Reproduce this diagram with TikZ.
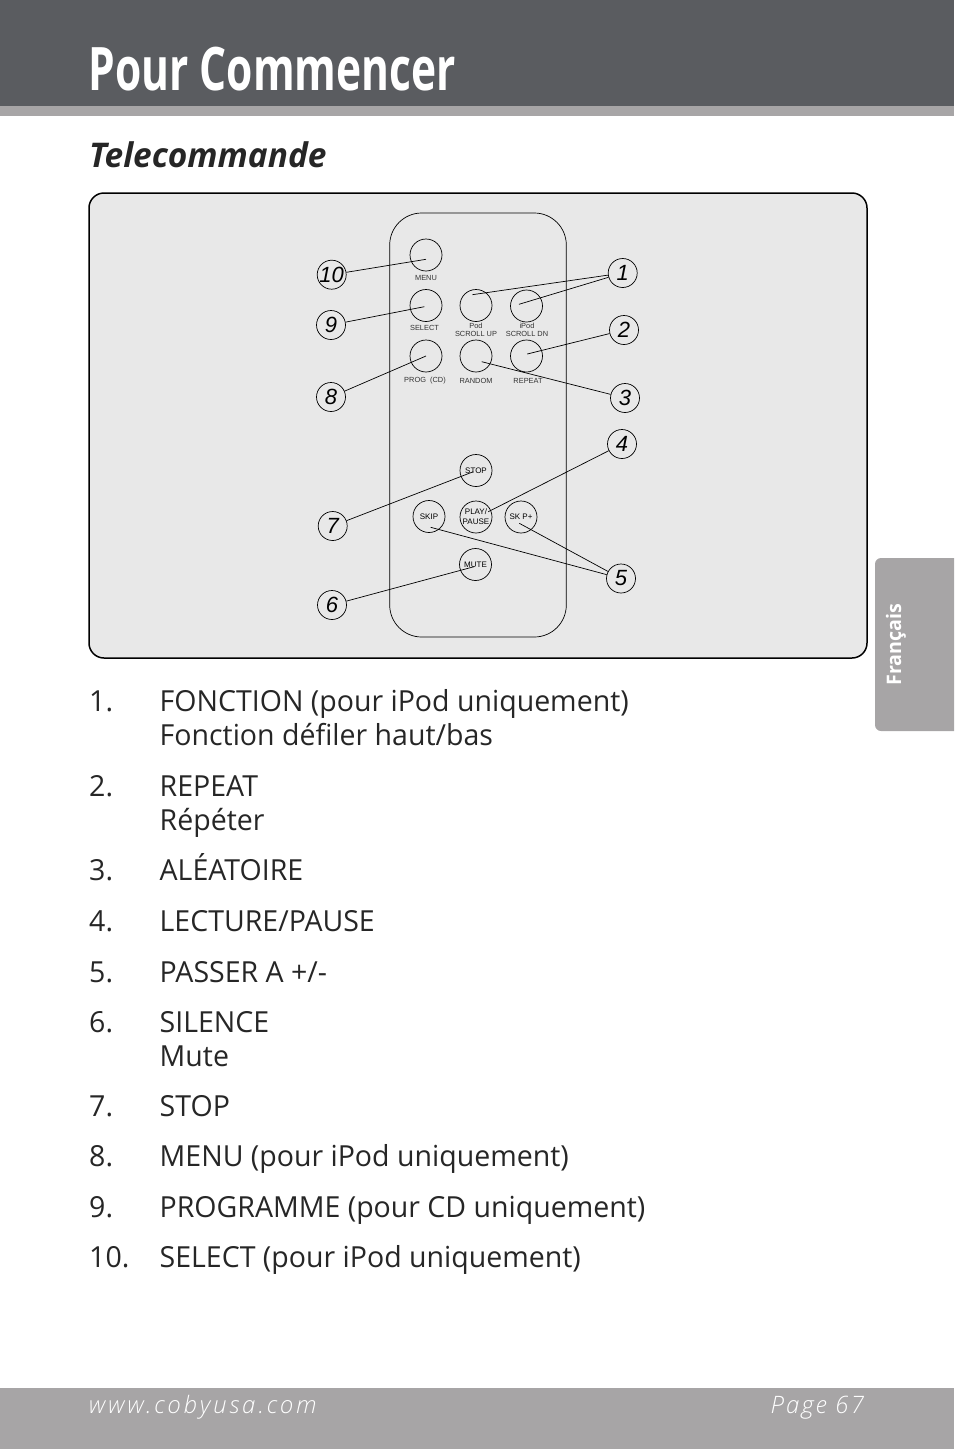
\documentclass[tikz,border=0pt]{standalone}
\usepackage{fontspec}
\setmainfont{Open Sans}[FakeStretch=0.983]
\newfontfamily\titlefont[FakeStretch=0.708]{Open Sans}
\newfontfamily\footfont[LetterSpace=9]{Open Sans Light}
\newfontfamily\webfont[LetterSpace=12]{Open Sans Light}
\newfontfamily\labelfont{Liberation Sans}
\definecolor{headgray}{HTML}{5A5C60}
\definecolor{stripgray}{HTML}{A7A5A6}
\definecolor{panelgray}{HTML}{E8E8E8}
\newcommand{\drawbtn}{\node[draw,circle,minimum size=32pt,inner sep=0,line width=0.7pt,font=\labelfont\fontsize{8}{10}\selectfont,align=center]}
\newcommand{\drawcall}{\node[draw,circle,minimum size=29pt,inner sep=0,line width=0.7pt,font=\labelfont\itshape\fontsize{22}{22}\selectfont]}
\newcommand{\drawtag}{\node[inner sep=0,font=\labelfont\fontsize{7.4}{8}\selectfont,text=black!80]}
\newcommand{\drawitem}{\node[anchor=base west,inner sep=0,font=\fontsize{29}{29}\selectfont,text=black!85]}
\tikzset{leader/.style={line width=0.7pt}}

\begin{document}
\begin{tikzpicture}[x=1pt,y=-1pt]
\useasboundingbox (0,0) rectangle (954,1449);
%page bands
\fill[headgray] (0,0) rectangle (954,106);
\fill[stripgray] (0,106) rectangle (954,116);
\fill[stripgray] (0,1388) rectangle (954,1449);
\fill[stripgray] (954,558) [rounded corners=6pt] -- (875,558) -- (875,731) [sharp corners] -- (954,731) -- cycle;
\node[rotate=90,inner sep=0,text=white,font=\bfseries\fontsize{20}{20}\selectfont] (lang) at (896,644.5) {Français};

\node[anchor=base west,inner sep=0,text=white,font=\titlefont\bfseries\fontsize{60}{60}\selectfont] (title) at (88.5,90) {Pour Commencer};
\node[anchor=base west,inner sep=0,text=black!85,font=\bfseries\itshape\fontsize{34}{34}\selectfont] (head) at (89,167) {Telecommande};

%panel and remote
\node[draw,fill=panelgray,rounded corners=15pt,line width=1.5pt,minimum width=778pt,minimum height=465pt] (panel) at (478,425.5) {};
\node[draw,rounded corners=32pt,line width=0.7pt,minimum width=176.6pt,minimum height=424pt] (remote) at (478,425) {};

%buttons
\drawbtn (menu) at (426,255) {};
\drawbtn (select) at (426,305.5) {};
\drawbtn (prog) at (426,356) {};
\drawbtn (up) at (476,305.5) {};
\drawbtn (dn) at (526.5,306) {};
\drawbtn (random) at (476,356) {};
\drawbtn (repeat) at (526.5,356) {};
\drawbtn (stop) at (476,470.5) {STOP};
\drawbtn (skip) at (429,516.5) {SKIP};
\drawbtn (play) at (476,517) {PLAY/\\PAUSE};
\drawbtn (skp) at (521,517) {SK P+};
\drawbtn (mute) at (475.5,564.5) {MUTE};

%button captions
\drawtag (menutag) at (426,278) {MENU};
\drawtag (selecttag) at (424.5,328) {SELECT};
\drawtag (progtag) at (425,381) {PROG\ \ (CD)};
\drawtag (uptag) at (476,330) {\shortstack{Pod\\SCROLL UP}};
\drawtag (dntag) at (527,330) {\shortstack{iPod\\SCROLL DN}};
\drawtag (randomtag) at (476,381) {RANDOM};
\drawtag (repeattag) at (528,381) {REPEAT};

%callouts
\drawcall (c1) at (622.7,273) {1};
\drawcall (c2) at (624,330) {2};
\drawcall (c3) at (625,398) {3};
\drawcall (c4) at (622,444) {4};
\drawcall (c5) at (621,578.5) {5};
\drawcall (c6) at (332,605) {6};
\drawcall (c7) at (332.7,526) {7};
\drawcall (c8) at (331,397) {8};
\drawcall (c9) at (331,325) {9};
\drawcall (c10) at (331.7,274.7) {10};

%leader ends inside the buttons
\coordinate (e1a) at (472.3,294.7);
\coordinate (e1b) at (519,304.3);
\coordinate (e2) at (527.3,354);
\coordinate (e3) at (481.7,361.7);
\coordinate (e4) at (488.3,511.7);
\coordinate (e5a) at (430.7,527.3);
\coordinate (e5b) at (519.3,523.3);
\coordinate (e6) at (474,566.7);
\coordinate (e7) at (473.3,471.7);
\coordinate (e8) at (426,356);
\coordinate (e9) at (424.3,306.7);
\coordinate (e10) at (426,259.3);

\draw[leader] (c1) to (e1a);
\draw[leader] (c1) to (e1b);
\draw[leader] (c2) to (e2);
\draw[leader] (c3) to (e3);
\draw[leader] (c4) to (e4);
\draw[leader] (c5) to (e5a);
\draw[leader] (c5) to (e5b);
\draw[leader] (c6) to (e6);
\draw[leader] (c7) to (e7);
\draw[leader] (c8) to (e8);
\draw[leader] (c9) to (e9);
\draw[leader] (c10) to (e10);

%list
\drawitem (n1) at (89,711) {1.};
\drawitem (t1) at (159.5,711) {FONCTION (pour iPod uniquement)};
\drawitem (t1b) at (159.5,745) {Fonction défiler haut/bas};
\drawitem (n2) at (89,796) {2.};
\drawitem (t2) at (159.5,796) {REPEAT};
\drawitem (t2b) at (159.5,830) {Répéter};
\drawitem (n3) at (89,880) {3.};
\drawitem (t3) at (159.5,880) {ALÉATOIRE};
\drawitem (n4) at (89,931) {4.};
\drawitem (t4) at (159.5,931) {LECTURE/PAUSE};
\drawitem (n5) at (89,982) {5.};
\drawitem (t5) at (159.5,982) {PASSER A +/-};
\drawitem (n6) at (89,1032) {6.};
\drawitem (t6) at (159.5,1032) {SILENCE};
\drawitem (t6b) at (159.5,1066) {Mute};
\drawitem (n7) at (89,1116) {7.};
\drawitem (t7) at (159.5,1116) {STOP};
\drawitem (n8) at (89,1166) {8.};
\drawitem (t8) at (159.5,1166) {MENU (pour iPod uniquement)};
\drawitem (n9) at (89,1217) {9.};
\drawitem (t9) at (159.5,1217) {PROGRAMME (pour CD uniquement)};
\drawitem (n10) at (89,1267) {10.};
\drawitem (t10) at (159.5,1267) {SELECT (pour iPod uniquement)};

%footer
\node[anchor=base west,inner sep=0,text=white,font=\webfont\itshape\fontsize{24}{24}\selectfont] (web) at (89,1413) {www.cobyusa.com};
\node[anchor=base east,inner sep=0,text=white,font=\footfont\itshape\fontsize{24}{24}\selectfont] (page) at (864,1413) {Page 67};
\end{tikzpicture}
\end{document}
